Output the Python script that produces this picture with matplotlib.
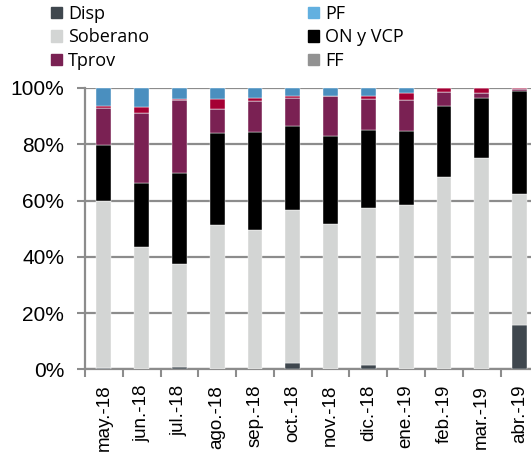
import matplotlib
matplotlib.use("Agg")
import matplotlib.pyplot as plt
from matplotlib.patches import Patch
from matplotlib.ticker import PercentFormatter
import numpy as np

# data (% of total), stack order bottom -> top
months = ["may.-18", "jun.-18", "jul.-18", "ago.-18", "sep.-18", "oct.-18",
          "nov.-18", "dic.-18", "ene.-19", "feb.-19", "mar.-19", "abr.-19"]
disp = [0.5, 0.0, 1.0, 0.0, 0.3, 2.3, 0.3, 1.7, 0.2, 0.0, 0.2, 15.8]
soberano = [59.5, 43.4, 36.5, 51.2, 49.3, 54.4, 51.5, 55.8, 58.1, 68.5, 74.9, 46.4]
on_vcp = [19.9, 23.0, 32.4, 32.9, 34.9, 29.9, 31.3, 27.7, 26.5, 25.2, 21.5, 36.7]
tprov = [12.9, 24.7, 25.7, 8.3, 10.8, 10.0, 14.2, 10.9, 10.8, 4.9, 1.7, 0.8]
otros = [0.9, 2.1, 0.5, 3.7, 1.3, 0.6, 0.0, 1.2, 2.7, 1.4, 1.7, 0.3]
pf = [6.3, 6.8, 3.9, 3.9, 3.4, 2.8, 2.7, 2.7, 1.7, 0.0, 0.0, 0.0]
ff = [0.0] * 12

series = [
    (disp, "#3f474e"), (soberano, "#d3d5d4"), (on_vcp, "#000000"),
    (tprov, "#7a2153"), (ff, "#929292"), (otros, "#a50034"), (pf, "#4a8fbf"),
]

fig = plt.figure(figsize=(5.31, 4.57), dpi=100)
ax = fig.add_axes([0.160, 0.1915, 0.854, 0.616])

x = np.arange(len(months))
bottom = np.zeros(len(months))
for vals, col in series:
    v = np.array(vals)
    ax.bar(x, v, width=0.39, bottom=bottom, color=col, zorder=3,
           edgecolor="white", linewidth=0.3)
    bottom += v

ax.set_xlim(-0.5, len(months) - 0.5)
ax.set_ylim(0, 100)
ax.set_yticks([0, 20, 40, 60, 80, 100])
ax.yaxis.set_major_formatter(PercentFormatter(decimals=0))
ax.grid(axis="y", color="#8c8c8c", linewidth=1.6, zorder=0)

ax.set_xticks(x)
ax.set_xticklabels(months, rotation=90, fontsize=13.5, family="Liberation Sans")
ax.set_xticks(np.arange(-0.5, len(months)), minor=True)
ax.tick_params(axis="x", which="major", length=0, pad=11)
ax.tick_params(axis="x", which="minor", length=6, width=1.5, color="#8c8c8c")
ax.tick_params(axis="y", length=6, width=1.5, color="#8c8c8c", labelsize=15, pad=9)
for lbl in ax.get_yticklabels():
    lbl.set_family("Liberation Sans")

for s in ["top", "right"]:
    ax.spines[s].set_visible(False)
ax.spines["left"].set_color("#8c8c8c")
ax.spines["left"].set_linewidth(1.6)
ax.spines["bottom"].set_color("#8c8c8c")
ax.spines["bottom"].set_linewidth(1.6)

handles = [
    Patch(color="#3f474e", label="Disp"),
    Patch(color="#d3d5d4", label="Soberano"),
    Patch(color="#7a2153", label="Tprov"),
    Patch(color="#62b0e0", label="PF"),
    Patch(color="#000000", label="ON y VCP"),
    Patch(color="#929292", label="FF"),
]
fig.legend(handles=handles, ncol=2, loc="upper left", bbox_to_anchor=(0.065, 1.025),
           frameon=False, prop={"family": "Open Sans", "size": 13},
           handlelength=0.6, handleheight=0.6, handletextpad=0.35,
           labelspacing=0.3, columnspacing=8.8)

fig.savefig("out.png", dpi=100, facecolor="white")
